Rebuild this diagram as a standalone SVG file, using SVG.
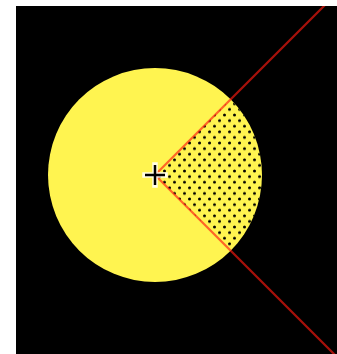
<svg xmlns="http://www.w3.org/2000/svg" width="337" height="354" viewBox="0 0 337 354">
  <defs>
    <pattern id="dots" patternUnits="userSpaceOnUse" x="0" y="3" width="10" height="11.2">
      <circle cx="4.5" cy="0" r="1.5" fill="#000"/>
      <circle cx="4.5" cy="11.2" r="1.5" fill="#000"/>
      <circle cx="9.5" cy="5.6" r="1.5" fill="#000"/>
      <circle cx="-0.5" cy="5.6" r="1.5" fill="#000"/>
    </pattern>
    <clipPath id="bg">
      <rect x="16" y="6" width="321" height="348"/>
    </clipPath>
    <style>
      .ray { stroke: #ff1a10; stroke-opacity: 0.65; stroke-width: 2.2; fill: none; }
    </style>
  </defs>
  <rect x="0" y="0" width="337" height="354" fill="#ffffff"/>
  <rect id="background" x="16" y="6" width="321" height="348" fill="#000000"/>
  <g id="disc">
    <circle cx="155" cy="175" r="107" fill="#fff450"/>
    <path d="M155,175 L230.66,99.34 A107,107 0 0 1 230.66,250.66 Z" fill="url(#dots)"/>
  </g>
  <g id="rays" clip-path="url(#bg)">
    <line class="ray" x1="155" y1="175" x2="340" y2="-10"/>
    <line class="ray" x1="155" y1="175" x2="340" y2="360"/>
  </g>
  <g id="center-mark">
    <path d="M145,175 H165 M155,165 V185" stroke="#ffffff" stroke-width="5.5" stroke-linecap="square" fill="none" stroke-opacity="0.85"/>
    <path d="M145,175 H165 M155,165 V185" stroke="#000000" stroke-width="2.5" fill="none"/>
  </g>
</svg>
